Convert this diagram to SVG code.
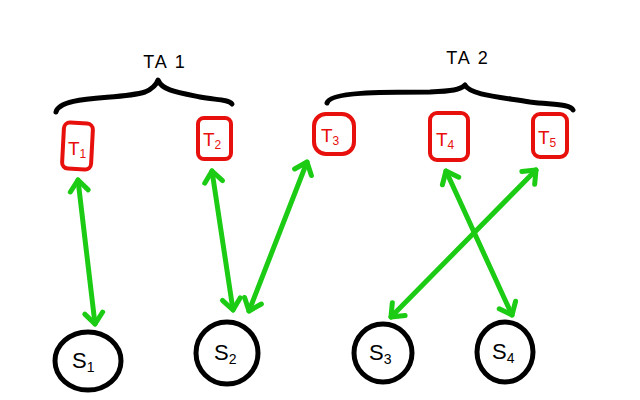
<svg xmlns="http://www.w3.org/2000/svg" width="640" height="400" viewBox="0 0 640 400">
<style>
.brace{fill:none;stroke:#000;stroke-width:5;stroke-linecap:round;stroke-linejoin:round}
.t rect{fill:#fff;stroke:#e8100c;stroke-width:4}
.t text{fill:#e8100c;font-family:"Liberation Sans",sans-serif;font-size:19px}
.s ellipse{fill:#fff;stroke:#000;stroke-width:5}
.s text{fill:#000;font-family:"Liberation Sans",sans-serif;font-size:22px}
.lbl{fill:#000;font-family:"Liberation Sans",sans-serif;font-size:18px;letter-spacing:2px}
.c line{stroke:#1ccc14;stroke-width:5;stroke-linecap:round;marker-start:url(#ah);marker-end:url(#ah)}
</style>
<defs>
<marker id="ah" markerUnits="userSpaceOnUse" markerWidth="30" markerHeight="30" refX="0" refY="0" viewBox="-15 -15 30 30" orient="auto-start-reverse" overflow="visible">
<path d="M-11,-9 L0,0 L-11,9" fill="none" stroke="#1ccc14" stroke-width="5" stroke-linecap="round" stroke-linejoin="round"/>
</marker>
</defs>
<rect width="640" height="400" fill="#fff"/>
<g id="ta1">
<text class="lbl" x="165" y="68" text-anchor="middle">TA 1</text>
<path class="brace" d="M56,112 C60,95 120,100 145,92 C152,89 156,86 158,80 C162,90 175,92 200,97 C215,100 228,99 232,104"/>
</g>
<g id="ta2">
<text class="lbl" x="468" y="64" text-anchor="middle">TA 2</text>
<path class="brace" d="M327,103 C330,92 380,92 430,92 C452,91 460,90 465,85 C470,95 500,97 530,102 C555,105 570,104 573,110"/>
</g>
<g class="c" id="connectors">
<line x1="78" y1="180" x2="95" y2="324"/>
<line x1="212" y1="171" x2="233" y2="310"/>
<line x1="249" y1="311" x2="307" y2="162"/>
<line x1="446" y1="171" x2="512" y2="315"/>
<line x1="536" y1="170" x2="391" y2="317"/>
</g>
<g class="t" id="T1"><rect x="63" y="123" width="29" height="46" rx="6" transform="rotate(3 77 146)"/><text x="68" y="155">T<tspan font-size="12" dy="3">1</tspan></text></g>
<g class="t" id="T2"><rect x="198" y="118" width="33" height="41" rx="6"/><text x="203" y="146">T<tspan font-size="12" dy="3">2</tspan></text></g>
<g class="t" id="T3"><rect x="314" y="114" width="40" height="40" rx="12"/><text x="321" y="142">T<tspan font-size="12" dy="3">3</tspan></text></g>
<g class="t" id="T4"><rect x="430" y="113" width="38" height="47" rx="7"/><text x="436" y="146">T<tspan font-size="12" dy="3">4</tspan></text></g>
<g class="t" id="T5"><rect x="533" y="114" width="34" height="43" rx="7"/><text x="538" y="144">T<tspan font-size="12" dy="3">5</tspan></text></g>
<g class="s" id="S1"><ellipse cx="88" cy="361" rx="33" ry="29"/><text x="72" y="368">S<tspan font-size="14" dy="4">1</tspan></text></g>
<g class="s" id="S2"><ellipse cx="227" cy="353" rx="31" ry="31"/><text x="214" y="360">S<tspan font-size="14" dy="4">2</tspan></text></g>
<g class="s" id="S3"><ellipse cx="383" cy="353" rx="29" ry="29"/><text x="369" y="360">S<tspan font-size="14" dy="4">3</tspan></text></g>
<g class="s" id="S4"><ellipse cx="505" cy="352" rx="28" ry="30"/><text x="492" y="359">S<tspan font-size="14" dy="4">4</tspan></text></g>
</svg>
